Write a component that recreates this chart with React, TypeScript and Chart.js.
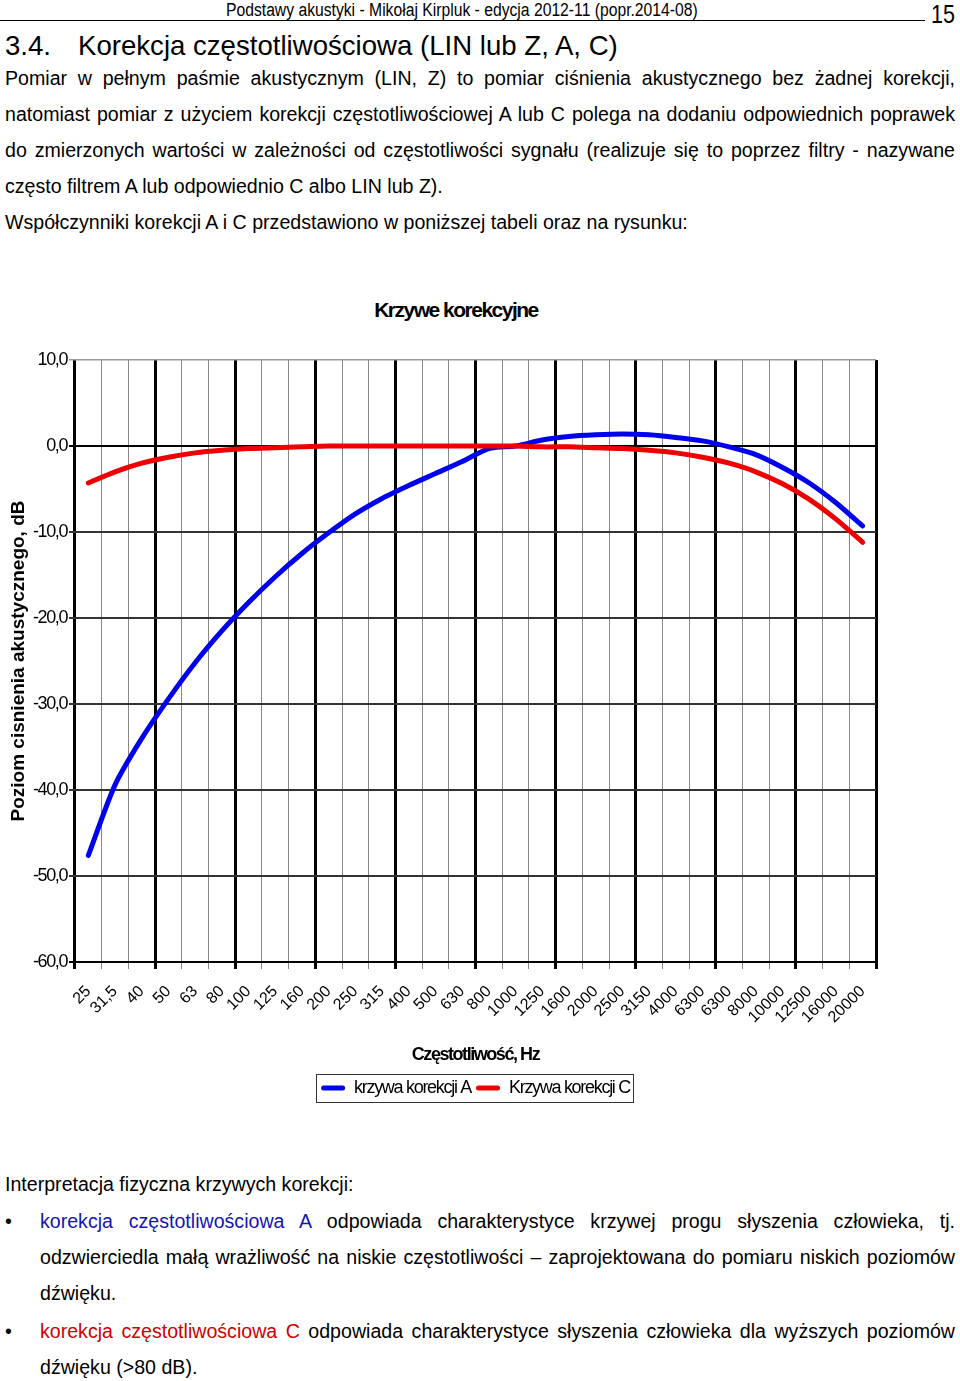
import React, { useEffect, useRef } from "react";
import { Chart, registerables } from "chart.js";

Chart.register(...registerables);

const frequencies = ["25", "31,5", "40", "50", "63", "80", "100", "125", "160", "200", "250", "315", "400", "500", "630", "800", "1000", "1250", "1600", "2000", "2500", "3150", "4000", "6300", "6300", "8000", "10000", "12500", "16000", "20000"];
const correctionA = [-47.6, -39.4, -34.0, -29.4, -25.2, -21.5, -18.2, -15.2, -12.5, -10.1, -7.9, -6.1, -4.6, -3.2, -1.8, -0.3, 0.0, 0.7, 1.1, 1.3, 1.4, 1.3, 1.0, 0.6, -0.1, -1.0, -2.5, -4.3, -6.6, -9.3];
const correctionC = [-4.3, -3.0, -2.0, -1.3, -0.8, -0.5, -0.3, -0.2, -0.1, 0, 0, 0, 0, 0, 0, 0, 0, -0.1, -0.1, -0.2, -0.3, -0.5, -0.8, -1.3, -2.0, -3.0, -4.4, -6.2, -8.5, -11.2];
const seriesNames = ["krzywa korekcji A", "Krzywa korekcji C"];
const yMin = -60;
const yMax = 10;
const yStep = 10;

const SANS = "'Liberation Sans', Arial, sans-serif";

function squeezeMethod(obj: any, name: string, spacing: string) {
  if (!obj || obj["__sq_" + name]) return;
  const orig = obj[name];
  obj["__sq_" + name] = true;
  obj[name] = function (...args: any[]) {
    const ctx = this.ctx;
    const prev = ctx.letterSpacing;
    ctx.letterSpacing = spacing;
    try {
      return orig.apply(this, args);
    } finally {
      ctx.letterSpacing = prev;
    }
  };
}

const squeezePlugin = {
  id: "squeeze",
  beforeLayout(chart: any) {
    if (chart.legend) {
      squeezeMethod(chart.legend, "fit", "-1.3px");
      squeezeMethod(chart.legend, "draw", "-1.3px");
    }
  },
  beforeDraw(chart: any) {
    squeezeMethod(chart.scales.y, "drawLabels", "-1.4px");
    squeezeMethod(chart.scales.x, "drawTitle", "-1.45px");
  },
};

const legendBorder = {
  id: "legendBorder",
  afterDraw(chart: any) {
    const lg = chart.legend;
    if (!lg || !lg.legendHitBoxes || !lg.legendHitBoxes.length) return;
    const hb = lg.legendHitBoxes;
    const l = Math.min(...hb.map((h: any) => h.left)) - 5;
    const r = Math.max(...hb.map((h: any) => h.left + h.width)) + 3;
    const t = Math.min(...hb.map((h: any) => h.top)) - 5;
    const b = Math.max(...hb.map((h: any) => h.top + h.height)) + 5;
    const ctx = chart.ctx;
    ctx.save();
    ctx.strokeStyle = "#333";
    ctx.lineWidth = 1;
    ctx.strokeRect(Math.round(l) + 0.5, Math.round(t) + 0.5, Math.round(r - l), Math.round(b - t));
    ctx.restore();
  },
};

function CorrectionChart() {
  const ref = useRef<HTMLCanvasElement>(null);
  useEffect(() => {
    if (!ref.current) return;
    const chart = new Chart(ref.current, {
      type: "line",
      data: {
        labels: frequencies,
        datasets: [
          {
            label: seriesNames[0],
            data: correctionA,
            borderColor: "#0000ee",
            backgroundColor: "#0000ee",
            borderWidth: 5,
            pointRadius: 0,
            tension: 0.25,
            order: 1,
            borderCapStyle: "round",
          },
          {
            label: seriesNames[1],
            data: correctionC,
            borderColor: "#ee0000",
            backgroundColor: "#ee0000",
            borderWidth: 5,
            pointRadius: 0,
            tension: 0.25,
            order: 0,
            borderCapStyle: "round",
          },
        ],
      },
      options: {
        animation: false,
        responsive: false,
        devicePixelRatio: 1,
        layout: { padding: { top: 70, right: 84, bottom: 13, left: 0 } },
        plugins: {
          title: { display: false },
          tooltip: { enabled: false },
          legend: {
            display: true,
            position: "bottom",
            fullSize: false,
            labels: {
              color: "#000",
              font: { family: SANS, size: 18 },
              boxWidth: 24,
              boxHeight: 5,
              padding: 5,
              sort: (a: any, b: any) => a.datasetIndex - b.datasetIndex,
              generateLabels(chart: any) {
                const items = (Chart.defaults.plugins.legend.labels as any).generateLabels(chart);
                return items.map((it: any) => ({ ...it, fillStyle: it.strokeStyle, lineWidth: 0, borderRadius: 2.5 }));
              },
            },
          },
        },
        scales: {
          x: {
            type: "category",
            offset: true,
            afterFit(scale: any) {
              scale.height = 112;
            },
            border: { display: false },
            grid: {
              offset: true,
              drawOnChartArea: true,
              tickLength: 7,
              color: (c: any) => (c.type !== "tick" || c.index % 3 === 0 ? "#000" : "#888"),
              lineWidth: (c: any) => (c.type !== "tick" || c.index % 3 === 0 ? 3 : 1),
              tickColor: (c: any) => (c.type !== "tick" || c.index % 3 === 0 ? "#000" : "#888"),
              tickWidth: (c: any) => (c.type !== "tick" || c.index % 3 === 0 ? 3 : 1),
            },
            ticks: {
              autoSkip: false,
              maxRotation: 45,
              minRotation: 45,
              padding: 13,
              color: "#000",
              font: { family: SANS, size: 16 },
            },
            title: {
              display: true,
              text: "Częstotliwość, Hz",
              color: "#000",
              font: { family: SANS, size: 18, weight: "bold" },
              padding: { top: 0, bottom: 8 },
            },
          },
          y: {
            min: yMin,
            max: yMax,
            afterFit(scale: any) {
              scale.width = 75;
            },
            border: { display: false },
            grid: {
              tickLength: 6,
              color: (c: any) => {
                const v = c.tick ? c.tick.value : 0;
                if (v === yMax) return "#999";
                if (v === 0 || v === yMin) return "#000";
                return "#333";
              },
              lineWidth: (c: any) => {
                const v = c.tick ? c.tick.value : 0;
                return v === yMax ? 1.5 : 2;
              },
            },
            ticks: {
              stepSize: yStep,
              padding: 2,
              color: "#000",
              font: { family: SANS, size: 18 },
              callback: (v: any) => Number(v).toFixed(1).replace(".", ","),
            },
            title: {
              display: true,
              text: "Poziom cisnienia akustycznego, dB",
              color: "#000",
              font: { family: SANS, size: 19, weight: "bold" },
              padding: { top: 7, bottom: 0 },
            },
          },
        },
      },
      plugins: [squeezePlugin, legendBorder],
    } as any);
    return () => chart.destroy();
  }, []);
  return <canvas ref={ref} width={960} height={830} style={{ display: "block", position: "absolute", left: 0, top: 290 }} />;
}

function TextLine(props: { y: number; x?: number; w?: number; justify?: boolean; size?: number; children: React.ReactNode }) {
  const size = props.size ?? 19.6;
  const x = props.x ?? 5;
  const w = props.w ?? 955 - x;
  return (
    <div
      style={{
        position: "absolute",
        left: x,
        top: props.y - 13,
        width: w,
        height: 26,
        lineHeight: "26px",
        fontSize: size,
        whiteSpace: "nowrap",
        textAlign: props.justify ? "justify" : "left",
        textAlignLast: props.justify ? "justify" : "left",
        overflow: "visible",
      } as React.CSSProperties}
    >
      {props.children}
    </div>
  );
}

const BLUE_TXT = "#1515b0";
const RED_TXT = "#d00000";

export default function App() {
  return (
    <div style={{ position: "absolute", left: 0, top: 0, width: 960, height: 1381, background: "#fff", color: "#000", fontFamily: SANS, overflow: "hidden" }}>
      <div
        style={{
          position: "absolute",
          left: 226,
          top: 0,
          height: 20,
          lineHeight: "20px",
          fontSize: 18,
          whiteSpace: "nowrap",
          transform: "scaleX(0.872)",
          transformOrigin: "0 0",
        }}
      >
        Podstawy akustyki - Mikołaj Kirpluk - edycja 2012-11 (popr.2014-08)
      </div>
      <div style={{ position: "absolute", left: 0, top: 20, width: 925, height: 1, background: "#000" }} />
      <div
        style={{
          position: "absolute",
          left: 931,
          top: 0,
          height: 28,
          lineHeight: "28px",
          fontSize: 25,
          transform: "scaleX(0.86)",
          transformOrigin: "0 0",
        }}
      >
        15
      </div>

      <div style={{ position: "absolute", left: 5, top: 29, lineHeight: "34px", fontSize: 27.6, whiteSpace: "nowrap" }}>3.4.</div>
      <div style={{ position: "absolute", left: 78, top: 29, lineHeight: "34px", fontSize: 27.6, whiteSpace: "nowrap" }}>
        Korekcja częstotliwościowa (LIN lub Z, A, C)
      </div>

      <TextLine y={78} justify>Pomiar w pełnym paśmie akustycznym (LIN, Z) to pomiar ciśnienia akustycznego bez żadnej korekcji,</TextLine>
      <TextLine y={114} justify>natomiast pomiar z użyciem korekcji częstotliwościowej A lub C polega na dodaniu odpowiednich poprawek</TextLine>
      <TextLine y={150} justify>do zmierzonych wartości w zależności od częstotliwości sygnału (realizuje się to poprzez filtry - nazywane</TextLine>
      <TextLine y={186}>często filtrem A lub odpowiednio C albo LIN lub Z).</TextLine>
      <TextLine y={222}>Współczynniki korekcji A i C przedstawiono w poniższej tabeli oraz na rysunku:</TextLine>

      <div
        style={{
          position: "absolute",
          left: 0,
          width: 912,
          top: 297,
          lineHeight: "26px",
          textAlign: "center",
          fontSize: 21,
          fontWeight: "bold",
          letterSpacing: "-1.5px",
        }}
      >
        Krzywe korekcyjne
      </div>

      <CorrectionChart />

      <TextLine y={1184}>Interpretacja fizyczna krzywych korekcji:</TextLine>
      <TextLine y={1221} x={5} w={20}>•</TextLine>
      <TextLine y={1221} x={40} justify>
        <span style={{ color: BLUE_TXT }}>korekcja częstotliwościowa A</span> odpowiada charakterystyce krzywej progu słyszenia człowieka, tj.
      </TextLine>
      <TextLine y={1257} x={40} justify>odzwierciedla małą wrażliwość na niskie częstotliwości – zaprojektowana do pomiaru niskich poziomów</TextLine>
      <TextLine y={1293} x={40}>dźwięku.</TextLine>
      <TextLine y={1331} x={5} w={20}>•</TextLine>
      <TextLine y={1331} x={40} justify>
        <span style={{ color: RED_TXT }}>korekcja częstotliwościowa C</span> odpowiada charakterystyce słyszenia człowieka dla wyższych poziomów
      </TextLine>
      <TextLine y={1367} x={40}>dźwięku (&gt;80 dB).</TextLine>
    </div>
  );
}
